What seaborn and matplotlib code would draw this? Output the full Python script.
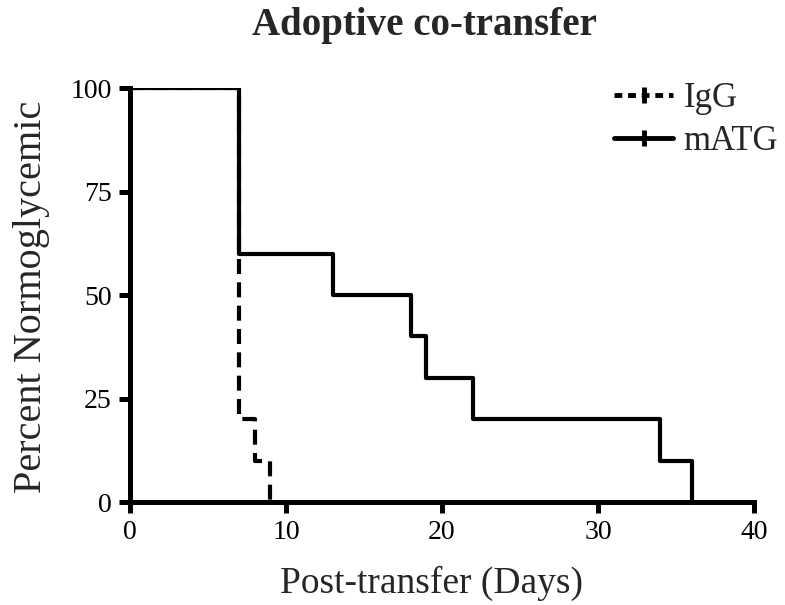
import pandas as pd
import matplotlib
matplotlib.use("Agg")
import matplotlib.pyplot as plt
from matplotlib.lines import Line2D
import seaborn as sns

# survival steps (Kaplan-Meier)
IGG_DAYS = [0, 7, 8, 9]
IGG_PCT = [100, 20, 10, 0]

MATG_DAYS = [0, 7, 13, 18, 19, 22, 34, 36]
MATG_PCT = [100, 60, 50, 40, 30, 20, 10, 0]

X_TICKS = [0, 10, 20, 30, 40]
Y_TICKS = [0, 25, 50, 75, 100]

sns.set_style("ticks")
plt.rcParams["font.family"] = ["Liberation Serif", "DejaVu Serif"]

df = pd.concat([
    pd.DataFrame({"day": IGG_DAYS, "pct": IGG_PCT, "group": "IgG"}),
    pd.DataFrame({"day": MATG_DAYS, "pct": MATG_PCT, "group": "mATG"}),
])

fig = plt.figure(figsize=(7.85, 6.05), dpi=100)
ax = fig.add_axes([130 / 785, 1 - 502 / 605, 624 / 785, 414 / 605])

sns.lineplot(data=df[df.group == "mATG"], x="day", y="pct", color="black",
             drawstyle="steps-post", linewidth=3.0, ax=ax, legend=False,
             estimator=None)
sns.lineplot(data=df[df.group == "IgG"], x="day", y="pct", color="black",
             drawstyle="steps-post", linewidth=3.0, ax=ax, legend=False,
             estimator=None)
ax.lines[-1].set_dashes((3.6, 2.0))

ax.set_xlim(0, 40)
ax.set_ylim(0, 100)
ax.set_xticks(X_TICKS)
ax.set_yticks(Y_TICKS)
ax.tick_params(width=3.6, length=8, labelsize=20, pad=5, colors="black")
for s in ["left", "bottom"]:
    ax.spines[s].set_linewidth(3.6)
    ax.spines[s].set_color("black")
sns.despine(ax=ax)
for sp in ax.spines.values():
    sp.set_clip_on(False)

ax.set_xlabel("Post-transfer (Days)", fontsize=27, va="center")
ax.xaxis.set_label_coords(0.483, -0.196)
ax.set_ylabel("Percent Normoglycemic", fontsize=29, va="center")
ax.yaxis.set_label_coords(-0.158, 0.495)
fig.text(424 / 785, 1 - 26 / 605, "Adoptive co-transfer", ha="center",
         va="center", fontsize=28, fontweight="bold")

handles = [
    Line2D([], [], color="black", linewidth=3.5, dashes=(1.6, 1.2),
           marker="|", markersize=12, markeredgewidth=3.5),
    Line2D([], [], color="black", linewidth=3.5,
           marker="|", markersize=12, markeredgewidth=3.5),
]
fig.legend(handles, ["IgG", "mATG"], loc="upper left", frameon=False,
           fontsize=25, handlelength=1.7, borderaxespad=0, borderpad=0,
           bbox_to_anchor=(614 / 785, 1 - 82 / 605),
           labelspacing=0.3, handletextpad=0.3)

fig.savefig("out.png", dpi=100)
